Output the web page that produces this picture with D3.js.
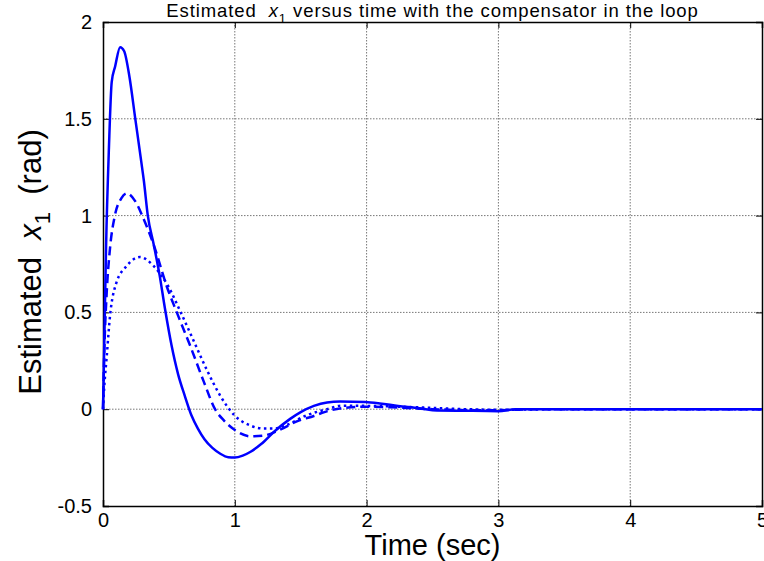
<!DOCTYPE html>
<html>
<head>
<meta charset="utf-8">
<script src="https://cdn.jsdelivr.net/npm/d3@7"></script>
<style>
  html, body { margin: 0; padding: 0; background: #fff; }
  svg { display: block; }
  text { font-family: "Liberation Sans", Arial, Helvetica, sans-serif; fill: #000; white-space: pre; }
</style>
</head>
<body>
<div id="chart"></div>
<script>
// ---- data ----
const xTicks = [0, 1, 2, 3, 4, 5];
const yTicks = [-0.5, 0, 0.5, 1, 1.5, 2];
const yTickLabels = ["-0.5", "0", "0.5", "1", "1.5", "2"];

const tSolid = [0, 0.01, 0.023, 0.045, 0.066, 0.092, 0.13, 0.16, 0.2, 0.245, 0.29, 0.31, 0.34, 0.385, 0.43, 0.47, 0.52, 0.57, 0.62, 0.67, 0.72, 0.77, 0.83, 0.89, 0.95, 1.0, 1.06, 1.12, 1.2, 1.3, 1.42, 1.5, 1.6, 1.7, 1.8, 1.99, 2.1, 2.24, 2.4, 2.5, 2.75, 3.0, 3.13, 3.5, 4, 4.5, 5];
const vSolid = [0, 0.35, 0.83, 1.35, 1.69, 1.77, 1.87, 1.85, 1.72, 1.5, 1.28, 1.18, 1.0, 0.85, 0.69, 0.52, 0.33, 0.18, 0.07, -0.03, -0.1, -0.155, -0.2, -0.23, -0.248, -0.25, -0.24, -0.22, -0.18, -0.115, -0.05, -0.015, 0.017, 0.035, 0.04, 0.037, 0.03, 0.017, 0.005, -0.005, -0.008, -0.01, 0, 0, 0, 0, 0];

const tDashed = [0, 0.01, 0.028, 0.053, 0.09, 0.14, 0.18, 0.244, 0.31, 0.384, 0.486, 0.56, 0.66, 0.766, 0.85, 0.92, 0.995, 1.12, 1.22, 1.33, 1.48, 1.6, 1.68, 1.81, 2.01, 2.2, 2.5, 2.8, 3.0, 3.3, 4, 5];
const vDashed = [0, 0.3, 0.6, 0.83, 1.0, 1.09, 1.115, 1.075, 0.98, 0.85, 0.63, 0.5, 0.33, 0.14, 0.0, -0.06, -0.105, -0.14, -0.136, -0.11, -0.06, -0.035, -0.015, 0.005, 0.013, 0.01, 0.0, -0.005, -0.005, 0, 0, 0];

const tDotted = [0, 0.01, 0.028, 0.053, 0.1, 0.18, 0.28, 0.384, 0.486, 0.59, 0.69, 0.79, 0.89, 0.995, 1.12, 1.22, 1.3, 1.38, 1.55, 1.7, 1.81, 2.01, 2.37, 2.75, 3.0, 3.5, 4, 5];
const vDotted = [0, 0.12, 0.27, 0.48, 0.65, 0.74, 0.786, 0.74, 0.646, 0.5, 0.35, 0.2, 0.069, -0.03, -0.085, -0.1, -0.1, -0.085, -0.03, 0.0, 0.018, 0.017, 0.01, 0.0, -0.003, 0, 0, 0];

// ---- layout ----
const W = 764, H = 561;
const margin = { left: 103, right: 2, top: 22, bottom: 55 };
const pw = W - margin.left - margin.right;
const ph = H - margin.top - margin.bottom;

const svg = d3.select("#chart").append("svg").attr("width", W).attr("height", H);
svg.append("rect").attr("width", W).attr("height", H).attr("fill", "#fff");

const x = d3.scaleLinear().domain([0, 5]).range([0, pw]);
const y = d3.scaleLinear().domain([-0.5, 2]).range([ph, 0]);

const g = svg.append("g").attr("transform", `translate(${margin.left},${margin.top})`);

// grid
const grid = g.append("g");
grid.selectAll(".gx").data(xTicks.slice(1, -1)).join("line")
  .attr("x1", d => x(d)).attr("x2", d => x(d)).attr("y1", 0).attr("y2", ph)
  .attr("stroke", "#777").attr("stroke-width", 1).attr("stroke-dasharray", "1.5,1.5");
grid.selectAll(".gy").data(yTicks.slice(1, -1)).join("line")
  .attr("y1", d => y(d)).attr("y2", d => y(d)).attr("x1", 0).attr("x2", pw)
  .attr("stroke", "#777").attr("stroke-width", 1).attr("stroke-dasharray", "1.5,1.5");

// axes with inward ticks
const tk = 6;
const axB = g.append("g").attr("transform", `translate(0,${ph})`)
  .call(d3.axisBottom(x).tickValues(xTicks).tickSize(-tk).tickPadding(7).tickFormat(d3.format("d")));
const axT = g.append("g")
  .call(d3.axisTop(x).tickValues(xTicks).tickSize(-tk).tickFormat(""));
const axL = g.append("g")
  .call(d3.axisLeft(y).tickValues(yTicks).tickSize(-tk).tickPadding(11).tickFormat((d, i) => yTickLabels[i]));
const axR = g.append("g").attr("transform", `translate(${pw},0)`)
  .call(d3.axisRight(y).tickValues(yTicks).tickSize(-tk).tickFormat(""));
[axB, axT, axL, axR].forEach(a => {
  a.select(".domain").attr("stroke", "#000").attr("stroke-width", 1.5);
  a.selectAll(".tick line").attr("stroke", "#000").attr("stroke-width", 1);
  a.selectAll(".tick text").attr("font-size", 20).attr("font-family", "Liberation Sans, Arial, sans-serif").attr("fill", "#000");
});

// curves
const mk = (ts, vs) => ts.map((t, i) => [t, vs[i]]);
const line = d3.line().x(d => x(d[0])).y(d => y(d[1])).curve(d3.curveMonotoneX);
const curves = g.append("g");
curves.append("path").datum(mk(tDotted, vDotted)).attr("d", line)
  .attr("fill", "none").attr("stroke", "#0000ff").attr("stroke-width", 2.5).attr("stroke-dasharray", "2.5,3.5");
curves.append("path").datum(mk(tDashed, vDashed)).attr("d", line)
  .attr("fill", "none").attr("stroke", "#0000ff").attr("stroke-width", 2.5).attr("stroke-dasharray", "9,5");
curves.append("path").datum(mk(tSolid, vSolid)).attr("d", line)
  .attr("fill", "none").attr("stroke", "#0000ff").attr("stroke-width", 2.5);

// title
const title = svg.append("text").attr("x", margin.left + pw / 2).attr("y", 17)
  .attr("text-anchor", "middle").attr("font-size", 18.5).attr("letter-spacing", 0.9);
title.append("tspan").text("Estimated  ");
title.append("tspan").attr("font-style", "italic").text("x");
title.append("tspan").attr("font-size", 13).attr("dy", 6).text("1");
title.append("tspan").attr("dy", -6).text(" versus time with the compensator in the loop");

// x label
svg.append("text").attr("x", margin.left + pw / 2).attr("y", 555)
  .attr("text-anchor", "middle").attr("font-size", 29).text("Time (sec)");

// y label
const yl = svg.append("text")
  .attr("transform", `translate(41,${margin.top + ph / 2 - 2}) rotate(-90)`)
  .attr("text-anchor", "middle").attr("font-size", 31);
yl.append("tspan").text("Estimated  ");
yl.append("tspan").attr("font-style", "italic").text("x");
yl.append("tspan").attr("font-size", 22).attr("dy", 9).text("1");
yl.append("tspan").attr("dy", -9).text("  (rad)");
</script>
</body>
</html>
